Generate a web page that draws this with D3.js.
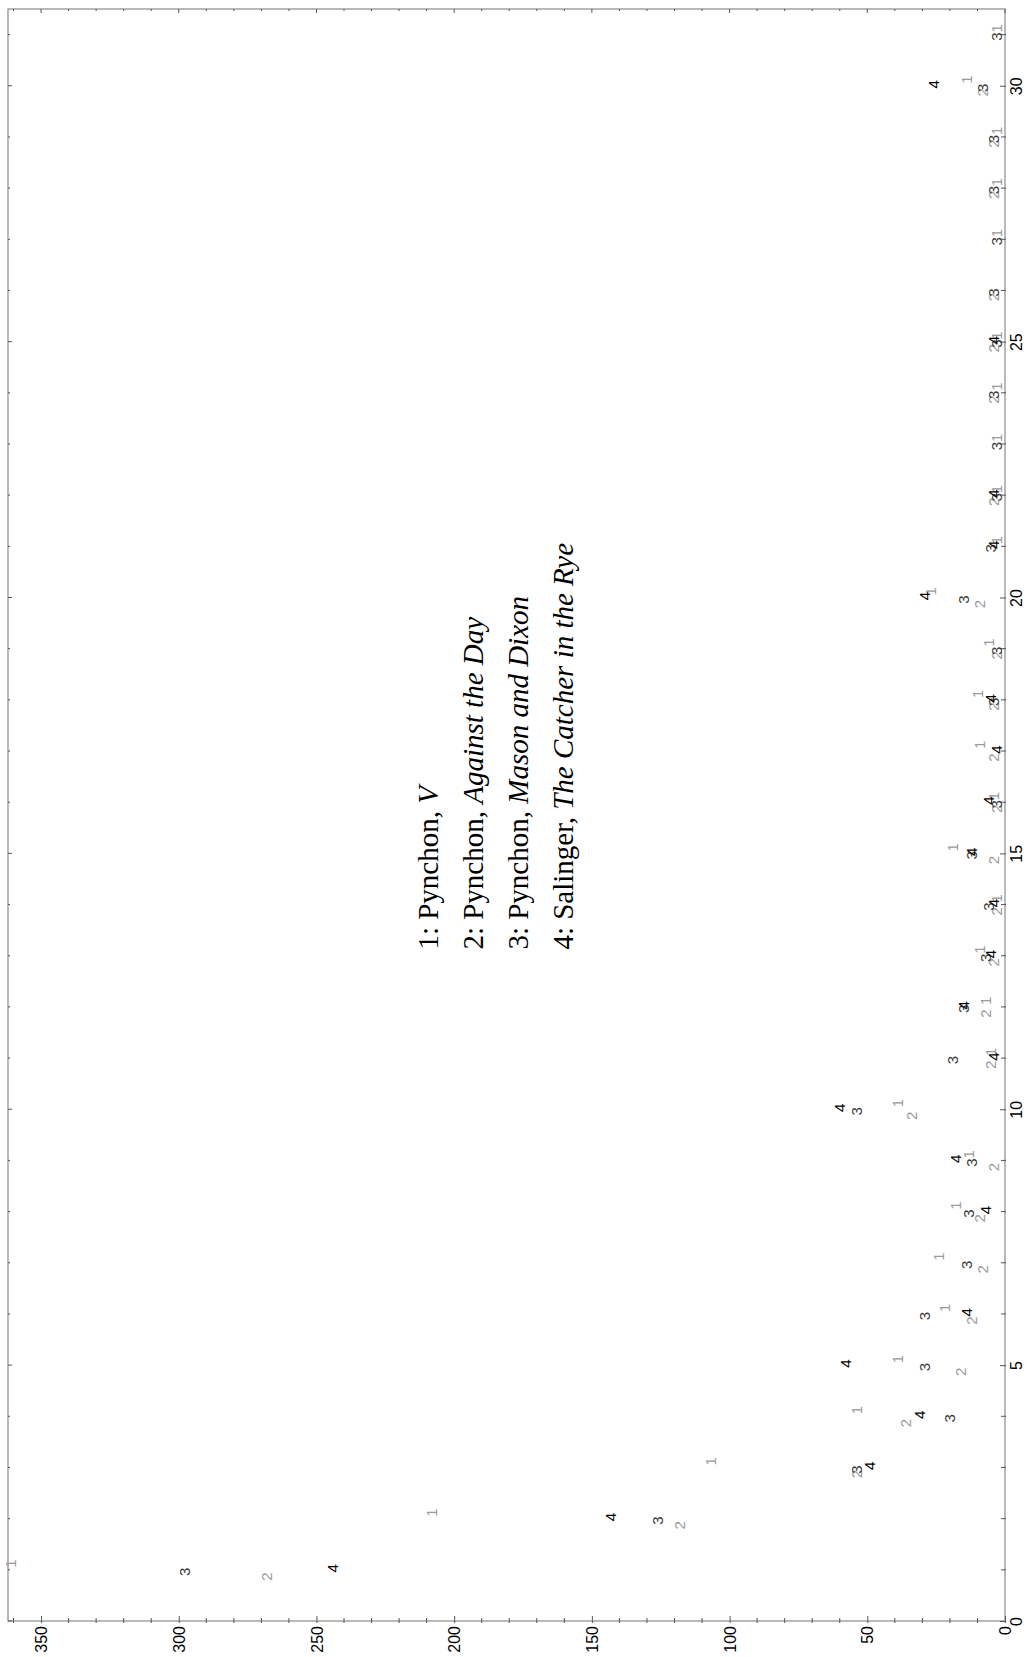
<!DOCTYPE html>
<html>
<head>
<meta charset="utf-8">
<script src="https://cdn.jsdelivr.net/npm/d3@7"></script>
<style>
  html, body { margin: 0; padding: 0; background: #fff; }
  svg { display: block; }
</style>
</head>
<body>
<script>
// Occurrences of the number words one ... thirty-one in four novels.
const numbers = d3.range(1, 32);

// 1: Pynchon, V
const pynchonV = [361, 208, 107, 54, 39, 22, 24, 18, 13, 39, 5, 7, 9, 3, 19, 4, 9, 10, 6, 27, 3, 3, 3, 3, 3, null, 3, 3, 3, 14, 3];
// 2: Pynchon, Against the Day
const againstTheDay = [268, 118, 54, 36, 16, 12, 8, 9, 4, 34, 5, 7, 4, 3, 4, 3, 4, 4, 3, 9, null, 4, null, 4, 4, 4, null, 4, 4, 8, null];
// 3: Pynchon, Mason and Dixon
const masonDixon = [298, 126, 54, 20, 29, 29, 14, 13, 12, 54, 19, 15, 7, 6, 12, 3, null, 4, 3, 15, 5, 3, 3, 4, 3, 4, 3, 4, 4, 8, 3];
// 4: Salinger, The Catcher in the Rye
const catcherRye = [244, 143, 49, 31, 58, 14, null, 7, 18, 60, 4, 15, 5, 4, 12, 6, 3, 5, null, 29, 4, 4, null, null, 4, null, null, null, null, 26, null];

const seriesKeys = ["1", "2", "3", "4"];
const seriesValues = [pynchonV, againstTheDay, masonDixon, catcherRye];

const countTicks = [0, 50, 100, 150, 200, 250, 300, 350];
const numberTicks = [0, 5, 10, 15, 20, 25, 30];

// legend entries: plain part, italic title
const legendPlain = ["1: Pynchon, ", "2: Pynchon, ", "3: Pynchon, ", "4: Salinger, "];
const legendTitles = ["V", "Against the Day", "Mason and Dixon", "The Catcher in the Rye"];

// ---- styling ----
const W = 1029, H = 1657;
const frame = { left: 8, right: 1005, top: 9, bottom: 1621 };
const axisGrey = "#8a8a8a";
const tickGrey = "#555";
const labelColor = { "1": "#9a9a9a", "2": "#9a9a9a", "3": "#3a3a3a", "4": "#000" };
// small per-series shift along the number axis so the labels do not sit on top of each other
const nudge = { "1": 0.12, "2": -0.13, "3": -0.04, "4": 0.03 };
const sansFont = "'Liberation Sans', Arial, Helvetica, sans-serif";
const serifFont = "'Liberation Serif', 'Times New Roman', Times, serif";

const svg = d3.select("body").append("svg")
  .attr("width", W).attr("height", H)
  .attr("viewBox", `0 0 ${W} ${H}`);

// the page is laid out sideways: counts run right-to-left along the bottom,
// number words run bottom-to-top along the right side
const count = d3.scaleLinear().domain([0, 362]).range([frame.right, frame.left]);
const num = d3.scaleLinear().domain([0, 31.5]).range([frame.bottom, frame.top]);

// frame
svg.append("rect")
  .attr("x", frame.left).attr("y", frame.top)
  .attr("width", frame.right - frame.left)
  .attr("height", frame.bottom - frame.top)
  .attr("fill", "none").attr("stroke", axisGrey).attr("stroke-width", 1.2);

// ---- count axis (bottom) ----
const minorCounts = d3.range(0, 361, 10).filter(v => v % 50 !== 0);
const gBottom = svg.append("g").attr("transform", `translate(0,${frame.bottom})`);
gBottom.call(d3.axisBottom(count).tickValues(countTicks).tickSizeOuter(0).tickSizeInner(-5).tickPadding(4));
gBottom.select(".domain").remove();
gBottom.selectAll(".tick line").attr("y1", 2).attr("stroke", tickGrey);
gBottom.selectAll(".tick text")
  .attr("transform", "rotate(-90)")
  .attr("x", -5).attr("y", 0).attr("dy", "0.35em")
  .attr("text-anchor", "end")
  .attr("fill", "#000")
  .style("font-family", sansFont).style("font-size", "16px");
gBottom.selectAll(".minor").data(minorCounts).join("line")
  .attr("class", "minor")
  .attr("x1", d => count(d)).attr("x2", d => count(d))
  .attr("y1", -3).attr("y2", 2)
  .attr("stroke", tickGrey);

// mirrored ticks along the top edge
const gTop = svg.append("g").attr("transform", `translate(0,${frame.top})`);
gTop.selectAll("line").data(countTicks.concat(minorCounts)).join("line")
  .attr("x1", d => count(d)).attr("x2", d => count(d))
  .attr("y1", 0).attr("y2", d => d % 50 === 0 ? 4 : 2)
  .attr("stroke", tickGrey);

// ---- number axis (right) ----
const minorNumbers = d3.range(0, 32).filter(v => v % 5 !== 0);
const gRight = svg.append("g").attr("transform", `translate(${frame.right},0)`);
gRight.call(d3.axisRight(num).tickValues(numberTicks).tickSizeOuter(0).tickSizeInner(-5).tickPadding(6));
gRight.select(".domain").remove();
gRight.selectAll(".tick line").attr("x1", 1).attr("stroke", tickGrey);
gRight.selectAll(".tick text")
  .attr("transform", "rotate(-90)")
  .attr("x", 0).attr("y", 6).attr("dy", "0.71em")
  .attr("text-anchor", "middle")
  .attr("fill", "#000")
  .style("font-family", sansFont).style("font-size", "16px");
gRight.selectAll(".minor").data(minorNumbers).join("line")
  .attr("class", "minor")
  .attr("y1", d => num(d)).attr("y2", d => num(d))
  .attr("x1", -4).attr("x2", 1)
  .attr("stroke", tickGrey);

// mirrored ticks along the left edge
const gLeft = svg.append("g").attr("transform", `translate(${frame.left},0)`);
gLeft.selectAll("line").data(numberTicks.concat(minorNumbers)).join("line")
  .attr("y1", d => num(d)).attr("y2", d => num(d))
  .attr("x1", 0).attr("x2", d => d % 5 === 0 ? 4 : 2)
  .attr("stroke", tickGrey);

// ---- point labels ----
const points = [];
seriesValues.forEach((vals, i) => {
  vals.forEach((v, j) => {
    if (v != null) points.push({ key: seriesKeys[i], n: numbers[j], v });
  });
});

svg.append("g").selectAll("text").data(points).join("text")
  .attr("transform", d => `translate(${count(d.v)},${num(d.n + nudge[d.key])}) rotate(-90)`)
  .attr("text-anchor", "middle")
  .attr("dy", "0.35em")
  .attr("fill", d => labelColor[d.key])
  .style("font-family", sansFont).style("font-size", "15px")
  .text(d => d.key);

// ---- legend ----
const legendAt = { n: 13.12, v: 206 };
const legendStep = 45;
const legend = svg.append("g")
  .attr("transform", `translate(${count(legendAt.v)},${num(legendAt.n)}) rotate(-90)`)
  .style("font-family", serifFont).style("font-size", "29px").attr("fill", "#000");
legendPlain.forEach((p, i) => {
  const t = legend.append("text").attr("x", 0).attr("y", i * legendStep);
  t.append("tspan").text(p);
  t.append("tspan").style("font-style", "italic").text(legendTitles[i]);
});
</script>
</body>
</html>
